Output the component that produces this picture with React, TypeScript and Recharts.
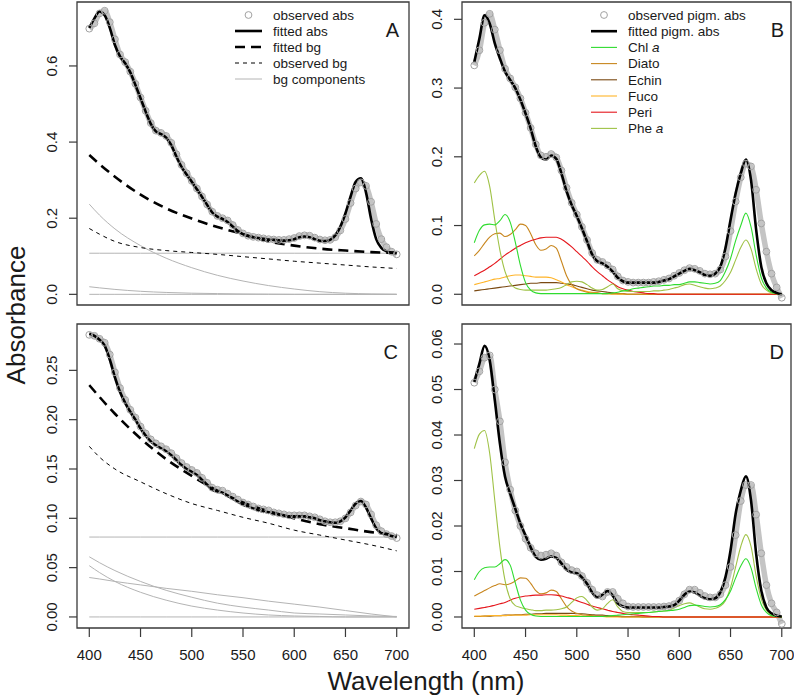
import React from 'react';
import { LineChart, Line, XAxis, YAxis, ReferenceArea } from 'recharts';

// ---------- categories (wavelength grids, nm) ----------
const WL5 = [
  400, 405, 410, 415, 420, 425, 430, 435, 440, 445,
  450, 455, 460, 465, 470, 475, 480, 485, 490, 495,
  500, 505, 510, 515, 520, 525, 530, 535, 540, 545,
  550, 555, 560, 565, 570, 575, 580, 585, 590, 595,
  600, 605, 610, 615, 620, 625, 630, 635, 640, 645,
  650, 655, 660, 665, 670, 675, 680, 685, 690, 695,
  700,
];
const WLBG = [400, 410, 425, 450, 475, 500, 525, 550, 575, 600, 625, 650, 675, 700];

// ---------- tick labels ----------
const X_TICKS = [400, 450, 500, 550, 600, 650, 700];
const A_Y_TICKS = [0, 0.2, 0.4, 0.6];
const B_Y_TICKS = [0, 0.1, 0.2, 0.3, 0.4];
const C_Y_TICKS = [0, 0.05, 0.1, 0.15, 0.2, 0.25];
const D_Y_TICKS = [0, 0.01, 0.02, 0.03, 0.04, 0.05, 0.06];

// ---------- Panel A ----------
const A_OBS = [
  0.698, 0.712, 0.738, 0.745, 0.715, 0.670, 0.630, 0.610, 0.585, 0.553,
  0.517, 0.482, 0.450, 0.430, 0.424, 0.416, 0.398, 0.368, 0.340, 0.318,
  0.298, 0.278, 0.257, 0.236, 0.217, 0.206, 0.200, 0.194, 0.182, 0.169,
  0.160, 0.154, 0.151, 0.149, 0.147, 0.145, 0.144, 0.143, 0.143, 0.145,
  0.148, 0.153, 0.155, 0.154, 0.149, 0.144, 0.142, 0.143, 0.150, 0.168,
  0.198, 0.240, 0.278, 0.294, 0.285, 0.243, 0.185, 0.145, 0.124, 0.112,
  0.105,
];
const A_FIT = [
  0.700, 0.725, 0.743, 0.733, 0.700, 0.655, 0.625, 0.607, 0.583, 0.550,
  0.515, 0.480, 0.448, 0.428, 0.421, 0.412, 0.392, 0.362, 0.335, 0.315,
  0.296, 0.276, 0.256, 0.235, 0.215, 0.204, 0.198, 0.190, 0.178, 0.166,
  0.158, 0.153, 0.150, 0.148, 0.146, 0.144, 0.143, 0.142, 0.141, 0.142,
  0.145, 0.150, 0.152, 0.150, 0.145, 0.141, 0.140, 0.143, 0.155, 0.178,
  0.213, 0.257, 0.296, 0.305, 0.268, 0.198, 0.145, 0.122, 0.113, 0.110,
  0.108,
];
const A_FITBG = [0.366, 0.342, 0.309, 0.262, 0.226, 0.199, 0.177, 0.158, 0.139, 0.128, 0.120, 0.115, 0.111, 0.109];
const A_OBSBG = [0.173, 0.158, 0.139, 0.123, 0.115, 0.110, 0.105, 0.099, 0.093, 0.087, 0.082, 0.077, 0.072, 0.068];
const A_BG_CONST = [0.108, 0.108, 0.108, 0.108, 0.108, 0.108, 0.108, 0.108, 0.108, 0.108, 0.108, 0.108, 0.108, 0.108];
const A_BG_EXP1 = [0.237, 0.208, 0.172, 0.128, 0.095, 0.070, 0.050, 0.035, 0.023, 0.014, 0.007, 0.003, 0.001, 0.0];
const A_BG_EXP2 = [0.020, 0.017, 0.013, 0.008, 0.005, 0.003, 0.002, 0.001, 0.0005, 0, 0, 0, 0, 0];
const A_BG_ZERO = [0, 0, 0, 0, 0, 0, 0, 0, 0, 0, 0, 0, 0, 0];

// ---------- Panel B ----------
const B_OBS = [
  0.333, 0.355, 0.395, 0.408, 0.385, 0.355, 0.328, 0.314, 0.301, 0.285,
  0.264, 0.242, 0.218, 0.202, 0.200, 0.204, 0.199, 0.180, 0.155, 0.133,
  0.116, 0.098, 0.079, 0.060, 0.050, 0.047, 0.042, 0.036, 0.026, 0.020,
  0.018, 0.017, 0.017, 0.017, 0.017, 0.018, 0.019, 0.021, 0.023, 0.027,
  0.031, 0.035, 0.038, 0.037, 0.034, 0.030, 0.029, 0.030, 0.036, 0.055,
  0.092, 0.135, 0.170, 0.190, 0.186, 0.152, 0.103, 0.062, 0.030, 0.010,
  -0.005,
];
const B_FIT = [
  0.338, 0.372, 0.406, 0.394, 0.365, 0.343, 0.324, 0.312, 0.300, 0.283,
  0.263, 0.241, 0.215, 0.199, 0.196, 0.202, 0.197, 0.176, 0.150, 0.130,
  0.114, 0.096, 0.077, 0.058, 0.048, 0.045, 0.040, 0.033, 0.024, 0.019,
  0.017, 0.017, 0.017, 0.017, 0.017, 0.017, 0.018, 0.020, 0.022, 0.026,
  0.030, 0.034, 0.037, 0.035, 0.032, 0.028, 0.027, 0.030, 0.040, 0.067,
  0.108, 0.147, 0.176, 0.196, 0.166, 0.094, 0.040, 0.016, 0.006, 0.002,
  0.000,
];
const B_CHL = [
  0.075, 0.093, 0.101, 0.102, 0.101, 0.107, 0.116, 0.105, 0.076, 0.042,
  0.017, 0.006, 0.002, 0.001, 0.001, 0.001, 0.001, 0.001, 0.001, 0.001,
  0.001, 0.001, 0.001, 0.001, 0.001, 0.001, 0.001, 0.002, 0.003, 0.005,
  0.006, 0.008, 0.009, 0.010, 0.011, 0.012, 0.012, 0.013, 0.013, 0.014,
  0.014, 0.016, 0.018, 0.018, 0.017, 0.016, 0.015, 0.016, 0.020, 0.033,
  0.052, 0.078, 0.100, 0.118, 0.098, 0.057, 0.024, 0.009, 0.003, 0.001,
  0.000,
];
const B_DIATO = [
  0.056, 0.064, 0.074, 0.083, 0.088, 0.089, 0.084, 0.087, 0.094, 0.102,
  0.100, 0.088, 0.072, 0.064, 0.066, 0.071, 0.067, 0.048, 0.027, 0.014,
  0.008, 0.005, 0.003, 0.002, 0.002, 0.001, 0.001, 0.001, 0.001, 0.001,
  0, 0, 0, 0, 0, 0, 0, 0, 0, 0,
  0, 0, 0, 0, 0, 0, 0, 0, 0, 0,
  0, 0, 0, 0, 0, 0, 0, 0, 0, 0,
  0,
];
const B_ECHIN = [
  0.005, 0.006, 0.007, 0.008, 0.009, 0.010, 0.011, 0.012, 0.013, 0.014,
  0.015, 0.016, 0.016, 0.017, 0.017, 0.017, 0.017, 0.016, 0.015, 0.014,
  0.012, 0.010, 0.008, 0.006, 0.005, 0.004, 0.003, 0.002, 0.001, 0.001,
  0, 0, 0, 0, 0, 0, 0, 0, 0, 0,
  0, 0, 0, 0, 0, 0, 0, 0, 0, 0,
  0, 0, 0, 0, 0, 0, 0, 0, 0, 0,
  0,
];
const B_FUCO = [
  0.014, 0.016, 0.018, 0.020, 0.022, 0.023, 0.025, 0.027, 0.028, 0.028,
  0.027, 0.026, 0.025, 0.025, 0.025, 0.024, 0.021, 0.018, 0.014, 0.011,
  0.008, 0.006, 0.004, 0.003, 0.002, 0.001, 0.001, 0, 0, 0,
  0, 0, 0, 0, 0, 0, 0, 0, 0, 0,
  0, 0, 0, 0, 0, 0, 0, 0, 0, 0,
  0, 0, 0, 0, 0, 0, 0, 0, 0, 0,
  0,
];
const B_PERI = [
  0.027, 0.031, 0.035, 0.040, 0.045, 0.051, 0.057, 0.062, 0.067, 0.071,
  0.075, 0.078, 0.080, 0.082, 0.083, 0.083, 0.083, 0.080, 0.075, 0.069,
  0.062, 0.055, 0.048, 0.040, 0.033, 0.027, 0.021, 0.016, 0.011, 0.008,
  0.006, 0.004, 0.003, 0.002, 0.001, 0.001, 0, 0, 0, 0,
  0, 0, 0, 0, 0, 0, 0, 0, 0, 0,
  0, 0, 0, 0, 0, 0, 0, 0, 0, 0,
  0,
];
const B_PHE = [
  0.162, 0.173, 0.179, 0.157, 0.108, 0.064, 0.033, 0.016, 0.009, 0.007,
  0.006, 0.006, 0.006, 0.006, 0.006, 0.007, 0.008, 0.010, 0.014, 0.018,
  0.019, 0.018, 0.014, 0.009, 0.006, 0.007, 0.011, 0.015, 0.008, 0.005,
  0.004, 0.004, 0.004, 0.004, 0.004, 0.005, 0.005, 0.006, 0.007, 0.009,
  0.011, 0.014, 0.015, 0.013, 0.011, 0.009, 0.008, 0.009, 0.012, 0.020,
  0.032, 0.050, 0.068, 0.079, 0.066, 0.037, 0.015, 0.006, 0.002, 0.001,
  0.000,
];

// ---------- Panel C ----------
const C_OBS = [
  0.286, 0.285, 0.282, 0.278, 0.266, 0.248, 0.232, 0.220, 0.210, 0.202,
  0.193, 0.186, 0.180, 0.176, 0.173, 0.170, 0.166, 0.161, 0.156, 0.152,
  0.149, 0.146, 0.141, 0.136, 0.131, 0.129, 0.128, 0.125, 0.122, 0.119,
  0.116, 0.114, 0.112, 0.110, 0.109, 0.108, 0.106, 0.105, 0.104, 0.103,
  0.103, 0.103, 0.103, 0.102, 0.101, 0.099, 0.097, 0.096, 0.096, 0.097,
  0.100, 0.106, 0.113, 0.117, 0.114, 0.104, 0.093, 0.087, 0.084, 0.082,
  0.080,
];
const C_FIT = [
  0.287, 0.285, 0.281, 0.275, 0.261, 0.243, 0.228, 0.217, 0.208, 0.200,
  0.191, 0.184, 0.178, 0.174, 0.171, 0.168, 0.164, 0.159, 0.154, 0.150,
  0.147, 0.144, 0.139, 0.134, 0.129, 0.127, 0.126, 0.123, 0.120, 0.117,
  0.114, 0.112, 0.110, 0.108, 0.107, 0.106, 0.105, 0.104, 0.103, 0.102,
  0.102, 0.102, 0.102, 0.101, 0.100, 0.098, 0.097, 0.096, 0.0955, 0.097,
  0.101, 0.108, 0.115, 0.1175, 0.111, 0.100, 0.090, 0.085, 0.084, 0.082,
  0.081,
];
const C_FITBG = [0.235, 0.223, 0.206, 0.181, 0.160, 0.143, 0.128, 0.116, 0.107, 0.100, 0.094, 0.090, 0.086, 0.083];
const C_OBSBG = [0.173, 0.162, 0.150, 0.137, 0.125, 0.115, 0.108, 0.101, 0.095, 0.088, 0.083, 0.078, 0.073, 0.067];
const C_BG_CONST = [0.081, 0.081, 0.081, 0.081, 0.081, 0.081, 0.081, 0.081, 0.081, 0.081, 0.081, 0.081, 0.081, 0.081];
const C_BG_EXP1 = [0.061, 0.055, 0.047, 0.036, 0.027, 0.020, 0.014, 0.010, 0.007, 0.004, 0.003, 0.002, 0.001, 0.0005];
const C_BG_EXP2 = [0.052, 0.045, 0.036, 0.025, 0.017, 0.011, 0.007, 0.004, 0.002, 0.001, 0.0005, 0, 0, 0];
const C_BG_LIN = [0.040, 0.0385, 0.036, 0.0325, 0.029, 0.026, 0.0225, 0.0195, 0.016, 0.013, 0.010, 0.0065, 0.003, 0.0];
const C_BG_ZERO = [0, 0, 0, 0, 0, 0, 0, 0, 0, 0, 0, 0, 0, 0];

// ---------- Panel D ----------
const D_OBS = [
  0.0515, 0.0540, 0.0570, 0.0575, 0.0500, 0.0430, 0.0340, 0.0280, 0.0234, 0.0200,
  0.0172, 0.0152, 0.0140, 0.0135, 0.0137, 0.0140, 0.0135, 0.0120, 0.0110, 0.0103,
  0.0100, 0.0090, 0.0075, 0.0060, 0.0048, 0.0045, 0.0055, 0.0055, 0.0040, 0.0030,
  0.0023, 0.0022, 0.0022, 0.0022, 0.0022, 0.0022, 0.0022, 0.0023, 0.0024, 0.0028,
  0.0036, 0.0050, 0.0060, 0.0060, 0.0053, 0.0046, 0.0043, 0.0043, 0.0050, 0.0070,
  0.0110, 0.0180, 0.0255, 0.0290, 0.0290, 0.0225, 0.0140, 0.0070, 0.0030, 0.0010,
  -0.0015,
];
const D_FIT = [
  0.0517, 0.0557, 0.0596, 0.0565, 0.0477, 0.0381, 0.0308, 0.0271, 0.0238, 0.0205,
  0.0179, 0.0153, 0.0132, 0.0126, 0.0128, 0.0133, 0.0130, 0.0118, 0.0104, 0.0098,
  0.0096, 0.0087, 0.0073, 0.0054, 0.0043, 0.0049, 0.0057, 0.0047, 0.0030, 0.0023,
  0.0021, 0.0021, 0.0021, 0.0021, 0.0021, 0.0021, 0.0021, 0.0022, 0.0023, 0.0026,
  0.0036, 0.0049, 0.0056, 0.0054, 0.0047, 0.0041, 0.0039, 0.0041, 0.0054, 0.0087,
  0.0146, 0.0227, 0.0278, 0.0309, 0.0256, 0.0139, 0.0058, 0.0021, 0.0008, 0.0003,
  0.0001,
];
const D_CHL = [
  0.0082, 0.0100, 0.0108, 0.0110, 0.0110, 0.0117, 0.0126, 0.0114, 0.0075, 0.0037,
  0.0015, 0.0006, 0.0002, 0.0001, 0.0001, 0.0001, 0.0001, 0.0001, 0.0001, 0.0001,
  0.0001, 0.0001, 0.0001, 0.0001, 0.0001, 0.0001, 0.0002, 0.0003, 0.0004, 0.0005,
  0.0006, 0.0007, 0.0008, 0.0009, 0.0010, 0.0011, 0.0012, 0.0013, 0.0014, 0.0015,
  0.0017, 0.0021, 0.0025, 0.0026, 0.0025, 0.0023, 0.0022, 0.0023, 0.0027, 0.0038,
  0.0057, 0.0086, 0.0112, 0.0128, 0.0108, 0.0063, 0.0027, 0.0010, 0.0003, 0.0001,
  0.0000,
];
const D_DIATO = [
  0.0046, 0.0052, 0.0058, 0.0064, 0.0069, 0.0073, 0.0071, 0.0073, 0.0079, 0.0086,
  0.0085, 0.0074, 0.0058, 0.0051, 0.0053, 0.0059, 0.0056, 0.0040, 0.0023, 0.0013,
  0.0008, 0.0005, 0.0004, 0.0003, 0.0002, 0.0002, 0.0001, 0.0001, 0.0001, 0,
  0, 0, 0, 0, 0, 0, 0, 0, 0, 0,
  0, 0, 0, 0, 0, 0, 0, 0, 0, 0,
  0, 0, 0, 0, 0, 0, 0, 0, 0, 0,
  0,
];
const D_ECHIN = [
  0.0001, 0.0001, 0.0002, 0.0002, 0.0003, 0.0003, 0.0004, 0.0004, 0.0005, 0.0005,
  0.0006, 0.0006, 0.0007, 0.0007, 0.0008, 0.0008, 0.0008, 0.0008, 0.0008, 0.0008,
  0.0007, 0.0007, 0.0006, 0.0005, 0.0004, 0.0004, 0.0003, 0.0002, 0.0002, 0.0001,
  0.0001, 0.0001, 0.0001, 0, 0, 0, 0, 0, 0, 0,
  0, 0, 0, 0, 0, 0, 0, 0, 0, 0,
  0, 0, 0, 0, 0, 0, 0, 0, 0, 0,
  0,
];
const D_FUCO = [
  0.0002, 0.0002, 0.0002, 0.0003, 0.0003, 0.0003, 0.0003, 0.0004, 0.0004, 0.0004,
  0.0004, 0.0005, 0.0005, 0.0005, 0.0005, 0.0005, 0.0005, 0.0004, 0.0004, 0.0003,
  0.0003, 0.0002, 0.0002, 0.0001, 0.0001, 0.0001, 0, 0, 0, 0,
  0, 0, 0, 0, 0, 0, 0, 0, 0, 0,
  0, 0, 0, 0, 0, 0, 0, 0, 0, 0,
  0, 0, 0, 0, 0, 0, 0, 0, 0, 0,
  0,
];
const D_PERI = [
  0.0017, 0.0019, 0.0021, 0.0023, 0.0026, 0.0029, 0.0032, 0.0037, 0.0041, 0.0044,
  0.0046, 0.0047, 0.0048, 0.0048, 0.0049, 0.0049, 0.0048, 0.0046, 0.0043, 0.0040,
  0.0036, 0.0032, 0.0028, 0.0024, 0.0021, 0.0018, 0.0015, 0.0012, 0.0010, 0.0008,
  0.0006, 0.0005, 0.0004, 0.0003, 0.0002, 0.0001, 0.0001, 0, 0, 0,
  0, 0, 0, 0, 0, 0, 0, 0, 0, 0,
  0, 0, 0, 0, 0, 0, 0, 0, 0, 0,
  0,
];
const D_PHE = [
  0.0370, 0.0402, 0.0410, 0.0360, 0.0256, 0.0153, 0.0080, 0.0040, 0.0025, 0.0021,
  0.0018, 0.0016, 0.0014, 0.0014, 0.0015, 0.0015, 0.0016, 0.0018, 0.0022, 0.0032,
  0.0042, 0.0045, 0.0036, 0.0022, 0.0015, 0.0018, 0.0030, 0.0038, 0.0022, 0.0012,
  0.0010, 0.0010, 0.0010, 0.0010, 0.0010, 0.0011, 0.0012, 0.0013, 0.0015, 0.0020,
  0.0025, 0.0029, 0.0031, 0.0027, 0.0022, 0.0018, 0.0017, 0.0019, 0.0024, 0.0036,
  0.0065, 0.0110, 0.0155, 0.0181, 0.0155, 0.0090, 0.0040, 0.0015, 0.0005, 0.0002,
  0.0000,
];

// ---------- styles ----------
const FONT = '"Liberation Sans", Arial, Helvetica, sans-serif';
const FRAME = '#3a3a3a';
const OBS_RING = '#a2a2a2';
const OBS_BAND = '#c4c4c4';
const BG_GRAY = '#b4b4b4';
const COL = {
  chl: '#2fdc2f',
  diato: '#c8861e',
  echin: '#7a4912',
  fuco: '#ffb428',
  peri: '#e5161c',
  phe: '#9fc246',
};

type Pt = { w: number; v: number };
const pts = (wl: number[], vals: number[]): Pt[] => wl.map((w, i) => ({ w, v: vals[i] }));

type Series = {
  data: Pt[];
  stroke: string;
  width: number;
  dash?: string;
  observed?: boolean;
};

const XTick = (props: any) => {
  const { x, y, payload } = props;
  return (
    <text x={x} y={y + 23} textAnchor="middle" fontSize={15} fontFamily={FONT} fill="#1a1a1a">
      {payload.value}
    </text>
  );
};

const makeYTick = (digits: number) => (props: any) => {
  const { x, y, payload } = props;
  const bx = x - 12;
  return (
    <text
      x={bx}
      y={y}
      transform={`rotate(-90 ${bx} ${y})`}
      textAnchor="middle"
      fontSize={15}
      fontFamily={FONT}
      fill="#1a1a1a"
    >
      {Number(payload.value).toFixed(digits)}
    </text>
  );
};

type PanelProps = {
  left: number;
  top: number;
  plotW: number;
  plotH: number;
  xDomain: [number, number];
  yDomain: [number, number];
  yTicks: number[];
  digits: number;
  showX: boolean;
  series: Series[];
};

const ML = 62;
const MT = 4;
const MR = 3;
const XH = 50;

function Panel({ left, top, plotW, plotH, xDomain, yDomain, yTicks, digits, showX, series }: PanelProps) {
  const width = ML + plotW + MR;
  const height = MT + plotH + (showX ? XH : 4);
  const YTick = makeYTick(digits);
  return (
    <div style={{ position: 'absolute', left: left - ML, top: top - MT, width, height }}>
      <LineChart width={width} height={height} margin={{ top: MT, right: MR, bottom: showX ? 0 : 4, left: 0 }}>
        <XAxis
          type="number"
          dataKey="w"
          domain={xDomain}
          ticks={X_TICKS}
          allowDataOverflow
          hide={!showX}
          height={XH}
          tickSize={9}
          tickMargin={0}
          axisLine={false}
          tickLine={{ stroke: FRAME, strokeWidth: 1.2 }}
          tick={<XTick />}
          interval={0}
        />
        <YAxis
          type="number"
          dataKey="v"
          domain={yDomain}
          ticks={yTicks}
          allowDataOverflow
          width={ML}
          tickSize={8}
          tickMargin={0}
          axisLine={false}
          tickLine={{ stroke: FRAME, strokeWidth: 1.2 }}
          tick={<YTick />}
          interval={0}
        />
        {series.map((s, i) =>
          s.observed ? (
            <Line
              key={i}
              data={s.data}
              dataKey="v"
              type="monotone"
              stroke={OBS_BAND}
              strokeWidth={5.5}
              dot={{ r: 3.4, stroke: OBS_RING, strokeWidth: 1, fill: 'none' }}
              activeDot={false}
              isAnimationActive={false}
            />
          ) : (
            <Line
              key={i}
              data={s.data}
              dataKey="v"
              type="monotone"
              stroke={s.stroke}
              strokeWidth={s.width}
              strokeDasharray={s.dash}
              dot={false}
              activeDot={false}
              isAnimationActive={false}
            />
          )
        )}
        <ReferenceArea
          x1={xDomain[0]}
          x2={xDomain[1]}
          y1={yDomain[0]}
          y2={yDomain[1]}
          fill="none"
          fillOpacity={0}
          stroke={FRAME}
          strokeWidth={1.3}
          ifOverflow="visible"
        />
      </LineChart>
    </div>
  );
}

const bgSeries = (fit: number[], obs: number[], comps: number[][]): Series[] => [
  ...comps.map((c) => ({ data: pts(WLBG, c), stroke: BG_GRAY, width: 1 })),
  { data: pts(WLBG, obs), stroke: '#000', width: 1, dash: '4 4' },
  { data: pts(WLBG, fit), stroke: '#000', width: 2.6, dash: '10 6' },
];

const seriesA: Series[] = [
  { data: pts(WL5, A_OBS), stroke: OBS_RING, width: 1, observed: true },
  ...bgSeries(A_FITBG, A_OBSBG, [A_BG_ZERO, A_BG_EXP2, A_BG_EXP1, A_BG_CONST]),
  { data: pts(WL5, A_FIT), stroke: '#000', width: 2.6 },
];

const seriesC: Series[] = [
  { data: pts(WL5, C_OBS), stroke: OBS_RING, width: 1, observed: true },
  ...bgSeries(C_FITBG, C_OBSBG, [C_BG_ZERO, C_BG_LIN, C_BG_EXP2, C_BG_EXP1, C_BG_CONST]),
  { data: pts(WL5, C_FIT), stroke: '#000', width: 2.6 },
];

const pigSeries = (obs: number[], fit: number[], chl: number[], diato: number[], echin: number[], fuco: number[], peri: number[], phe: number[]): Series[] => [
  { data: pts(WL5, obs), stroke: OBS_RING, width: 1, observed: true },
  { data: pts(WL5, echin), stroke: COL.echin, width: 1.1 },
  { data: pts(WL5, fuco), stroke: COL.fuco, width: 1.1 },
  { data: pts(WL5, diato), stroke: COL.diato, width: 1.1 },
  { data: pts(WL5, peri), stroke: COL.peri, width: 1.1 },
  { data: pts(WL5, phe), stroke: COL.phe, width: 1.1 },
  { data: pts(WL5, chl), stroke: COL.chl, width: 1.1 },
  { data: pts(WL5, fit), stroke: '#000', width: 2.6 },
];

const seriesB = pigSeries(B_OBS, B_FIT, B_CHL, B_DIATO, B_ECHIN, B_FUCO, B_PERI, B_PHE);
const seriesD = pigSeries(D_OBS, D_FIT, D_CHL, D_DIATO, D_ECHIN, D_FUCO, D_PERI, D_PHE);

type LegendItem = { kind: 'circle' | 'line'; stroke?: string; width?: number; dash?: string; label: React.ReactNode };

const LEGEND_A: LegendItem[] = [
  { kind: 'circle', label: 'observed abs' },
  { kind: 'line', stroke: '#000', width: 2.6, label: 'fitted abs' },
  { kind: 'line', stroke: '#000', width: 2.6, dash: '10 6', label: 'fitted bg' },
  { kind: 'line', stroke: '#000', width: 1, dash: '4 4', label: 'observed bg' },
  { kind: 'line', stroke: BG_GRAY, width: 1, label: 'bg components' },
];

const LEGEND_B: LegendItem[] = [
  { kind: 'circle', label: 'observed pigm. abs' },
  { kind: 'line', stroke: '#000', width: 2.6, label: 'fitted pigm. abs' },
  { kind: 'line', stroke: COL.chl, width: 1.1, label: <>Chl <tspan fontStyle="italic">a</tspan></> },
  { kind: 'line', stroke: COL.diato, width: 1.1, label: 'Diato' },
  { kind: 'line', stroke: COL.echin, width: 1.1, label: 'Echin' },
  { kind: 'line', stroke: COL.fuco, width: 1.1, label: 'Fuco' },
  { kind: 'line', stroke: COL.peri, width: 1.1, label: 'Peri' },
  { kind: 'line', stroke: COL.phe, width: 1.1, label: <>Phe <tspan fontStyle="italic">a</tspan></> },
];

function LegendBlock({ items, x0, x1, tx, y0, dy }: { items: LegendItem[]; x0: number; x1: number; tx: number; y0: number; dy: number }) {
  return (
    <g>
      {items.map((it, i) => {
        const cy = y0 + i * dy;
        return (
          <g key={i}>
            {it.kind === 'circle' ? (
              <circle cx={(x0 + x1) / 2} cy={cy} r={3.4} fill="none" stroke={OBS_RING} strokeWidth={1} />
            ) : (
              <line x1={x0} x2={x1} y1={cy} y2={cy} stroke={it.stroke} strokeWidth={it.width} strokeDasharray={it.dash} />
            )}
            <text x={tx} y={cy + 4.8} fontSize={13.5} fontFamily={FONT} fill="#1a1a1a">
              {it.label}
            </text>
          </g>
        );
      })}
    </g>
  );
}

export default function App() {
  return (
    <div style={{ position: 'absolute', left: 0, top: 0, width: 795, height: 697, overflow: 'hidden', background: '#fff' }}>
      <Panel left={77} top={2} plotW={332} plotH={303} xDomain={[388, 712]} yDomain={[-0.028, 0.768]} yTicks={A_Y_TICKS} digits={1} showX={false} series={seriesA} />
      <Panel left={462} top={2} plotW={329} plotH={303} xDomain={[388, 709]} yDomain={[-0.0156, 0.4252]} yTicks={B_Y_TICKS} digits={1} showX={false} series={seriesB} />
      <Panel left={77} top={324} plotW={332} plotH={304} xDomain={[388, 712]} yDomain={[-0.0112, 0.297]} yTicks={C_Y_TICKS} digits={2} showX={true} series={seriesC} />
      <Panel left={462} top={324} plotW={329} plotH={304} xDomain={[388, 709]} yDomain={[-0.00242, 0.0644]} yTicks={D_Y_TICKS} digits={2} showX={true} series={seriesD} />
      <svg width={795} height={697} style={{ position: 'absolute', left: 0, top: 0, pointerEvents: 'none' }}>
        <LegendBlock items={LEGEND_A} x0={235} x1={262} tx={273} y0={15} dy={16} />
        <LegendBlock items={LEGEND_B} x0={591} x1={617} tx={628} y0={15} dy={16.2} />
        <text x={399} y={37} textAnchor="end" fontSize={20} fontFamily={FONT} fill="#1a1a1a">A</text>
        <text x={784} y={37} textAnchor="end" fontSize={20} fontFamily={FONT} fill="#1a1a1a">B</text>
        <text x={398} y={359} textAnchor="end" fontSize={20} fontFamily={FONT} fill="#1a1a1a">C</text>
        <text x={784} y={359} textAnchor="end" fontSize={20} fontFamily={FONT} fill="#1a1a1a">D</text>
        <text x={25} y={315} transform="rotate(-90 25 315)" textAnchor="middle" fontSize={26} fontFamily={FONT} fill="#1a1a1a">
          Absorbance
        </text>
        <text x={426} y={690} textAnchor="middle" fontSize={26} fontFamily={FONT} fill="#1a1a1a">
          Wavelength (nm)
        </text>
      </svg>
    </div>
  );
}
